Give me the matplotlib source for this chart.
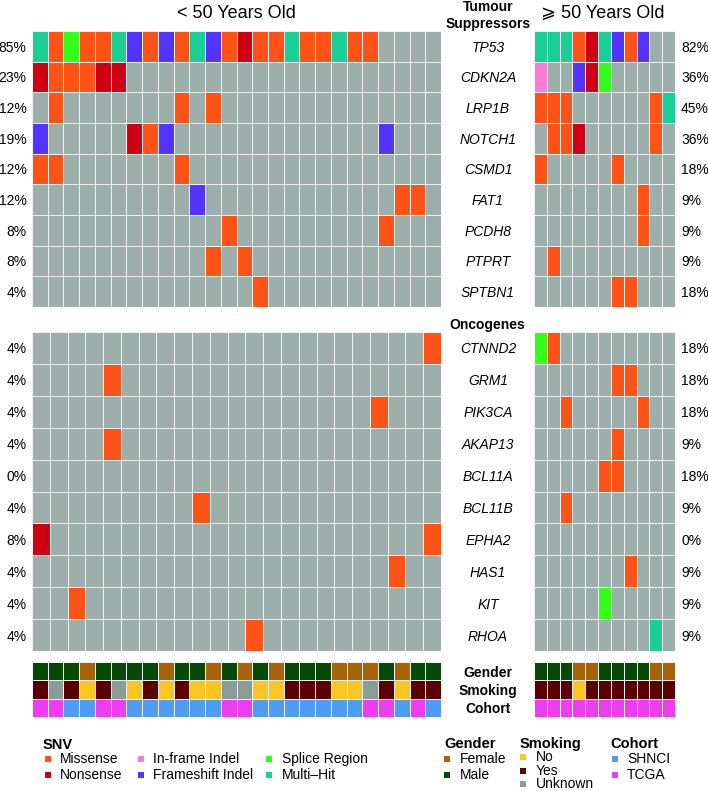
import numpy as np
import matplotlib.pyplot as plt
from matplotlib.colors import ListedColormap
from matplotlib.transforms import blended_transform_factory

plt.rcParams['font.family'] = ['Liberation Sans', 'DejaVu Sans']

# mutation codes: . none, M missense, N nonsense, I in-frame indel,
# F frameshift indel, S splice region, H multi-hit
tsg_genes = ['TP53', 'CDKN2A', 'LRP1B', 'NOTCH1', 'CSMD1', 'FAT1', 'PCDH8', 'PTPRT', 'SPTBN1']
tsg_young = [
    'HMSMMHFMFMHFMNMMHMMHMM....',
    'NMMMNN....................',
    '.M.......M.M..............',
    'F.....NMF.............F...',
    'MM.......M................',
    '..........F............MM.',
    '............M.........M...',
    '...........M.M............',
    '..............M...........',
]
tsg_old = [
    'HHHMNHFMF..',
    'I..FNS.....',
    'MMM......MH',
    '.MMN.....M.',
    'M.....M....',
    '........M..',
    '........M..',
    '.M.........',
    '......MM...',
]
tsg_pct_young = ['85%', '23%', '12%', '19%', '12%', '12%', '8%', '8%', '4%']
tsg_pct_old = ['82%', '36%', '45%', '36%', '18%', '9%', '9%', '9%', '18%']

onc_genes = ['CTNND2', 'GRM1', 'PIK3CA', 'AKAP13', 'BCL11A', 'BCL11B', 'EPHA2', 'HAS1', 'KIT', 'RHOA']
onc_young = [
    '......................M',
    '....M..................',
    '...................M...',
    '....M..................',
    '.......................',
    '.........M.............',
    'N.....................M',
    '....................M..',
    '..M....................',
    '............M..........',
]
onc_old = [
    'SM.........',
    '......MM...',
    '..M.....M..',
    '......M....',
    '.....MM....',
    '..M........',
    '...........',
    '.......M...',
    '.....S.....',
    '.........H.',
]
onc_pct_young = ['4%', '4%', '4%', '4%', '0%', '4%', '8%', '4%', '4%', '4%']
onc_pct_old = ['18%', '18%', '18%', '9%', '18%', '9%', '0%', '9%', '9%', '9%']

# clinical annotation
gender_young = 'MMMFMMMMFMMFMFMFMMMFFFMFMM'
smoking_young = 'YUYNYUNYNYNNUUNNYYYNNUYNYY'
cohort_young = 'TTSSTTSSSSSSTTSSSSSSSTTSTS'
gender_old = 'MMMFFMMMMFF'
smoking_old = 'YYYNYYYYYYY'
cohort_old = 'TTTTTTTTTTT'

for rows, n in [(tsg_young, 26), (tsg_old, 11), (onc_young, 23), (onc_old, 11)]:
    assert all(len(r) == n for r in rows)

snv_labels = ['Missense', 'Nonsense', 'In-frame Indel', 'Frameshift Indel', 'Splice Region', 'Multi\u2013Hit']
snv_codes = ['M', 'N', 'I', 'F', 'S', 'H']
snv_colors = ['#FF5216', '#D00014', '#FF7AD2', '#5533FF', '#33FF1A', '#1ACF95']
grey = '#9CAFAB'

gender_labels = ['Female', 'Male']
gender_colors = ['#A96307', '#064A06']
smoking_labels = ['No', 'Yes', 'Unknown']
smoking_colors = ['#FBC623', '#5A0000', '#8A9C98']
cohort_labels = ['SHNCI', 'TCGA']
cohort_colors = ['#4F9CF5', '#EE3DF0']

W, H = 708, 791
fig = plt.figure(figsize=(W / 100, H / 100), dpi=100)

lax = fig.add_axes([0, 0, 1, 1], zorder=-1)
lax.set_xlim(0, W)
lax.set_ylim(H, 0)
lax.axis('off')


def px_axes(x0, y0, x1, y1):
    return fig.add_axes([x0 / W, 1 - y1 / H, (x1 - x0) / W, (y1 - y0) / H])


def draw_grid(ax, mat, colors):
    cmap = ListedColormap(colors)
    ax.pcolormesh(mat, cmap=cmap, vmin=-0.5, vmax=len(colors) - 0.5,
                  edgecolors='#EEF2F1', linewidth=0.7)
    ax.set_xlim(0, mat.shape[1])
    ax.set_ylim(mat.shape[0], 0)
    ax.axis('off')


snv_lut = {'.': 0}
snv_lut.update({c: i + 1 for i, c in enumerate(snv_codes)})
snv_cmap_colors = [grey] + snv_colors


def mut_matrix(rows):
    return np.array([[snv_lut[c] for c in r] for r in rows])


def row_labels(ax_l, ax_r, genes, pct_l, pct_r):
    tl = blended_transform_factory(lax.transData, ax_l.transData)
    tr = blended_transform_factory(lax.transData, ax_r.transData)
    for i, g in enumerate(genes):
        ax_l.text(26.5, i + 0.5, pct_l[i], transform=tl, ha='right', va='center_baseline', fontsize=10)
        ax_r.text(681, i + 0.5, pct_r[i], transform=tr, ha='left', va='center_baseline', fontsize=10)
        ax_r.text(488, i + 0.5, g, transform=tr, ha='center', va='center_baseline',
                  fontsize=10, style='italic')


# tumour suppressors
ax1 = px_axes(32, 31, 441, 307)
ax2 = px_axes(534, 31, 675, 307)
draw_grid(ax1, mut_matrix(tsg_young), snv_cmap_colors)
draw_grid(ax2, mut_matrix(tsg_old), snv_cmap_colors)
row_labels(ax1, ax2, tsg_genes, tsg_pct_young, tsg_pct_old)

# oncogenes
ax3 = px_axes(32, 332, 441, 651)
ax4 = px_axes(534, 332, 675, 651)
draw_grid(ax3, mut_matrix(onc_young), snv_cmap_colors)
draw_grid(ax4, mut_matrix(onc_old), snv_cmap_colors)
row_labels(ax3, ax4, onc_genes, onc_pct_young, onc_pct_old)

# clinical tracks
clin_colors = gender_colors + smoking_colors + cohort_colors
g_lut = {'F': 0, 'M': 1}
s_lut = {'N': 2, 'Y': 3, 'U': 4}
c_lut = {'S': 5, 'T': 6}


def clin_matrix(g, s, c):
    return np.array([[g_lut[x] for x in g], [s_lut[x] for x in s], [c_lut[x] for x in c]])


ax5 = px_axes(32, 662, 441, 717)
ax6 = px_axes(534, 662, 675, 717)
draw_grid(ax5, clin_matrix(gender_young, smoking_young, cohort_young), clin_colors)
draw_grid(ax6, clin_matrix(gender_old, smoking_old, cohort_old), clin_colors)
t6 = blended_transform_factory(lax.transData, ax6.transData)
for i, lab in enumerate(['Gender', 'Smoking', 'Cohort']):
    ax6.text(488, i + 0.5, lab, transform=t6, ha='center', va='center_baseline',
             fontsize=10, fontweight='bold')

# headers
lax.text(236.5, 13, '< 50 Years Old', ha='center', va='center', fontsize=13)
lax.text(603, 13, '\u2a7e 50 Years Old', ha='center', va='center', fontsize=13)
lax.text(488.5, 7, 'Tumour', ha='center', va='center', fontsize=10, fontweight='bold')
lax.text(488.5, 24, 'Suppressors', ha='center', va='center', fontsize=10, fontweight='bold')
lax.text(487.5, 325, 'Oncogenes', ha='center', va='center', fontsize=10, fontweight='bold')


# legends
def legend_block(title, tx, ty, mx, lx, ys, labels, colors):
    lax.text(tx, ty, title, ha='left', va='center', fontsize=10.5, fontweight='bold')
    lax.scatter([mx] * len(ys), ys, s=22, marker='s', c=colors, linewidths=0)
    for y, lab in zip(ys, labels):
        lax.text(lx, y, lab, ha='left', va='center', fontsize=10)


lax.text(43, 745, 'SNV', ha='left', va='center', fontsize=10.5, fontweight='bold')
for k, (mx, lx) in enumerate([(48, 60), (141, 153), (269, 282)]):
    ys = [759, 775]
    lax.scatter([mx, mx], ys, s=22, marker='s', c=snv_colors[2 * k:2 * k + 2], linewidths=0)
    for y, lab in zip(ys, snv_labels[2 * k:2 * k + 2]):
        lax.text(lx, y, lab, ha='left', va='center', fontsize=10)

legend_block('Gender', 444, 744, 447, 460, [759, 775], gender_labels, gender_colors)
legend_block('Smoking', 520, 744, 523, 536, [757, 771, 784], smoking_labels, smoking_colors)
legend_block('Cohort', 610, 744, 615, 627, [759, 775], cohort_labels, cohort_colors)

fig.savefig('out.png', dpi=100)
